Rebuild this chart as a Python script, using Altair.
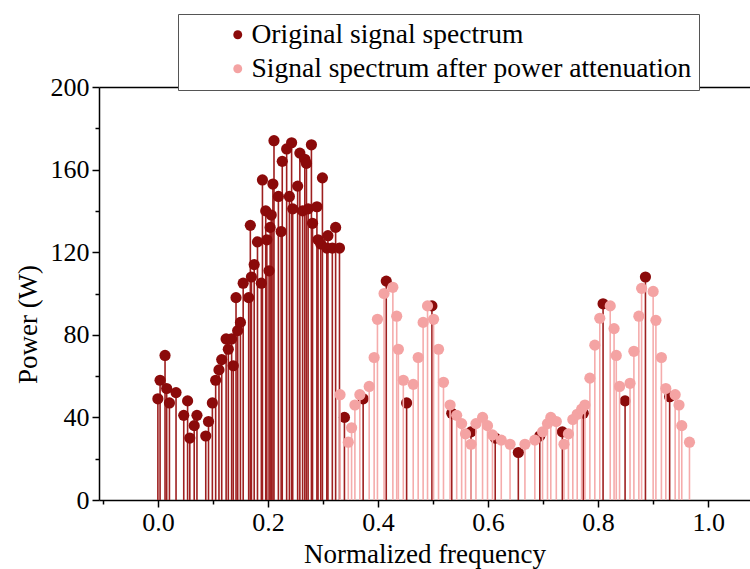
import altair as alt
import pandas as pd

# ---- data ----
dark_x = [0.000, 0.004, 0.013, 0.016, 0.021, 0.033, 0.047, 0.054, 0.058, 0.066,
          0.071, 0.087, 0.092, 0.099, 0.105, 0.111, 0.116, 0.124, 0.128, 0.134,
          0.137, 0.142, 0.145, 0.150, 0.155, 0.165, 0.168, 0.170, 0.175, 0.181,
          0.188, 0.190, 0.196, 0.198, 0.202, 0.204, 0.206, 0.209, 0.211, 0.219,
          0.224, 0.226, 0.234, 0.239, 0.243, 0.245, 0.254, 0.258, 0.263, 0.267,
          0.270, 0.273, 0.279, 0.281, 0.289, 0.291, 0.296, 0.299, 0.307, 0.309,
          0.317, 0.323, 0.330,
          0.339, 0.373, 0.415, 0.452, 0.498, 0.534, 0.569, 0.613, 0.655, 0.694,
          0.735, 0.773, 0.809, 0.849, 0.886, 0.930]
dark_y = [49, 58, 70, 54, 47, 52, 41, 48, 30, 36,
          41, 31, 38, 47, 58, 63, 68, 78, 73, 78,
          65, 98, 82, 86, 105, 98, 133, 108, 114, 125,
          105, 155, 140, 126, 111, 132, 138, 153, 174, 147,
          130, 164, 170, 147, 173, 141, 152, 168, 140, 165,
          163, 141, 172, 134, 142, 126, 124, 156, 122, 128,
          122, 132, 122,
          40, 49, 106, 47, 94, 42, 33, 30, 23, 31,
          33, 42, 95, 48, 108, 50]

pink_x = [0.331, 0.346, 0.352, 0.358, 0.367, 0.384, 0.393, 0.399, 0.411, 0.427,
          0.434, 0.437, 0.446, 0.464, 0.473, 0.482, 0.490, 0.501, 0.510, 0.519,
          0.531, 0.543, 0.552, 0.559, 0.569, 0.578, 0.590, 0.599, 0.608, 0.624,
          0.640, 0.667, 0.685, 0.699, 0.708, 0.714, 0.724, 0.738, 0.746, 0.754,
          0.762, 0.770, 0.776, 0.785, 0.794, 0.803, 0.822, 0.829, 0.833, 0.839,
          0.858, 0.865, 0.874, 0.879, 0.900, 0.905, 0.915, 0.923, 0.940, 0.947,
          0.952, 0.966]
pink_y = [51, 28, 35, 46, 51, 55, 69, 87.5, 100, 103,
          89, 73, 58, 56, 69, 86, 94, 87.5, 73, 57,
          46, 41, 37, 32, 27, 37, 40, 36, 31.5, 29,
          27, 27, 29, 33, 37, 40, 38, 27, 32, 39,
          41.5, 44, 46, 59, 75, 88, 94, 83, 70, 55,
          56.5, 72, 89, 102.5, 101, 87, 69, 54, 51, 46,
          36, 28]

series_names = ["Original signal spectrum", "Signal spectrum after power attenuation"]
point_colors = ["#8b0a0a", "#f4a3a3"]
stem_colors = ["#9e1f1f", "#f5acac"]

x_ticks = [-0.1, 0.0, 0.1, 0.2, 0.3, 0.4, 0.5, 0.6, 0.7, 0.8, 0.9, 1.0]
y_ticks = [0, 20, 40, 60, 80, 100, 120, 140, 160, 180, 200]

dark = pd.DataFrame({"x": dark_x, "y": dark_y, "series": series_names[0]})
pink = pd.DataFrame({"x": pink_x, "y": pink_y, "series": series_names[1]})

FONT = "Liberation Serif"

X_DOMAIN = [-0.107, 1.076]
yscale = alt.Scale(domain=[0, 200], nice=False)

def xscale():
    return alt.Scale(domain=X_DOMAIN, nice=False, zero=False)

x_axis = alt.Axis(
    values=x_ticks,
    labelExpr="abs(round(datum.value*10)) % 2 === 0 ? format(datum.value, '.1f') : ''",
    tickSize={"condition": {"test": "abs(round(datum.value*10)) % 2 === 0", "value": 7}, "value": 4},
    title="Normalized frequency", grid=False,
    labelFont=FONT, labelFontSize=26, labelColor="black", labelPadding=2,
    titleFont=FONT, titleFontSize=27, titleFontWeight="normal", titleColor="black",
    titlePadding=6, domainColor="black", domainWidth=1.5, tickColor="black", tickWidth=1.5,
    labelFlush=False, labelOverlap=False,
)
y_axis = alt.Axis(
    values=y_ticks,
    labelExpr="datum.value % 40 === 0 ? datum.label : ''",
    tickSize={"condition": {"test": "datum.value % 40 === 0", "value": 7}, "value": 4},
    title="Power (W)", grid=False,
    labelFont=FONT, labelFontSize=26, labelColor="black", labelPadding=3,
    titleFont=FONT, titleFontSize=27, titleFontWeight="normal", titleColor="black",
    titlePadding=8, titleY=237, domainColor="black", domainWidth=1.5,
    tickColor="black", tickWidth=1.5, labelFlush=False, labelOverlap=False,
)
top_axis = alt.Axis(orient="top", labels=False, ticks=False, title=None, grid=False,
                    domainColor="black", domainWidth=1.5)

color_enc = alt.Color(
    "series:N",
    scale=alt.Scale(domain=series_names, range=point_colors),
    legend=alt.Legend(
        orient="none", legendX=79, legendY=-73, title=None,
        padding=7, symbolOffset=39, labelOffset=0, rowPadding=5,
        labelFont=FONT, labelFontSize=27.5, labelColor="black", labelLimit=700,
        symbolType="circle", symbolSize=80, symbolStrokeWidth=0,
        strokeColor="#555555", fillColor="white",
    ),
)

def stems(df, col, axis):
    return alt.Chart(df).mark_rule(strokeWidth=1.6, color=col).encode(
        x=alt.X("x:Q", scale=xscale(), axis=axis),
        y=alt.Y("y:Q", scale=yscale, axis=y_axis),
        y2=alt.datum(0),
    )

def points(df):
    return alt.Chart(df).mark_circle(size=125, opacity=1).encode(
        x=alt.X("x:Q", scale=xscale(), axis=None),
        y=alt.Y("y:Q", scale=yscale, axis=y_axis),
        color=color_enc,
    )

chart = alt.layer(
    stems(dark, stem_colors[0], x_axis),
    points(dark),
    stems(pink, stem_colors[1], top_axis),
    points(pink),
).resolve_scale(x="independent").properties(
    width=651, height=413,
    autosize=alt.AutoSizeParams(type="none"),
    padding={"left": 99, "top": 87, "right": 0, "bottom": 69},
    background="white",
).configure_view(stroke=None)

chart.save("out.html", embed_options={"renderer": "svg", "actions": False})
